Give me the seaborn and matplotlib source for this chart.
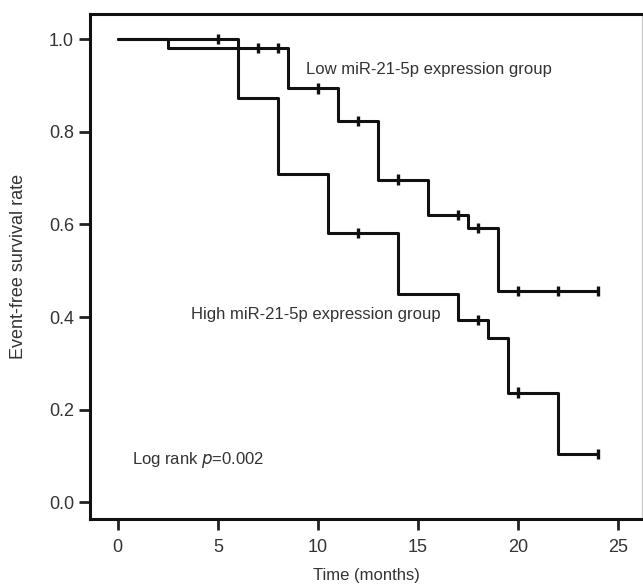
import numpy as np
import pandas as pd
import matplotlib.pyplot as plt
import seaborn as sns

# step curves (time in months, survival)
low_time = [0, 2.5, 8.5, 11, 13, 15.5, 17.5, 19, 24]
low_surv = [1.0, 0.982, 0.894, 0.823, 0.697, 0.620, 0.592, 0.457, 0.457]
high_time = [0, 6, 8, 10.5, 14, 17, 18.5, 19.5, 22, 24]
high_surv = [1.0, 0.873, 0.709, 0.582, 0.450, 0.394, 0.354, 0.237, 0.104, 0.104]

# censored observations
low_cens_time = [7, 8, 10, 12, 14, 17, 18, 20, 22, 24]
low_cens_surv = [0.982, 0.982, 0.894, 0.823, 0.697, 0.620, 0.592, 0.457, 0.457, 0.457]
high_cens_time = [5, 12, 18, 20, 24]
high_cens_surv = [1.0, 0.582, 0.394, 0.237, 0.104]

curves = pd.concat([
    pd.DataFrame({"time": low_time, "surv": low_surv, "group": "Low"}),
    pd.DataFrame({"time": high_time, "surv": high_surv, "group": "High"}),
])
cens = pd.concat([
    pd.DataFrame({"time": low_cens_time, "surv": low_cens_surv, "group": "Low"}),
    pd.DataFrame({"time": high_cens_time, "surv": high_cens_surv, "group": "High"}),
])

sns.set_style("ticks")
plt.rcParams["font.family"] = ["Liberation Sans", "DejaVu Sans"]
txt = "#333333"
fs = 12

fig = plt.figure(figsize=(6.43, 5.86), dpi=100)
ax = fig.add_axes([0.14, 0.115, 0.859, 0.861])

sns.lineplot(data=curves, x="time", y="surv", hue="group", units="group",
             estimator=None, sort=False, drawstyle="steps-post",
             palette={"Low": "#111111", "High": "#111111"},
             linewidth=2.2, legend=False, ax=ax)
sns.scatterplot(data=cens, x="time", y="surv", hue="group",
                palette={"Low": "#111111", "High": "#111111"},
                marker="|", s=55, linewidth=2.4, legend=False, ax=ax, zorder=3)

ax.text(9.4, 0.934, "Low miR-21-5p expression group", fontsize=fs, color=txt, va="center")
ax.text(3.65, 0.405, "High miR-21-5p expression group", fontsize=fs, color=txt, va="center")
ax.text(0.7, 0.091, "Log rank $\\it{p}$=0.002", fontsize=fs, color=txt, va="center")

ax.set_xlim(-1.385, 26.2)
ax.set_ylim(-0.0354, 1.0546)
ax.set_xticks([0, 5, 10, 15, 20, 25])
ax.set_yticks([0.0, 0.2, 0.4, 0.6, 0.8, 1.0])
ax.set_yticklabels(["0.0", "0.2", "0.4", "0.6", "0.8", "1.0"])
ax.set_xlabel("Time (months)", fontsize=fs, color=txt, labelpad=8)
ax.set_ylabel("Event-free survival rate", fontsize=fs + 1, color=txt, labelpad=16)
ax.tick_params(axis="both", labelsize=fs + 1, labelcolor=txt, length=8, width=2, color="#222222")
ax.tick_params(axis="x", pad=7)

for side in ["left", "bottom", "top"]:
    ax.spines[side].set_linewidth(2.2)
    ax.spines[side].set_color("#111111")
ax.spines["right"].set_linewidth(1)
ax.spines["right"].set_color("#cccccc")

fig.savefig("out.png", dpi=100)
